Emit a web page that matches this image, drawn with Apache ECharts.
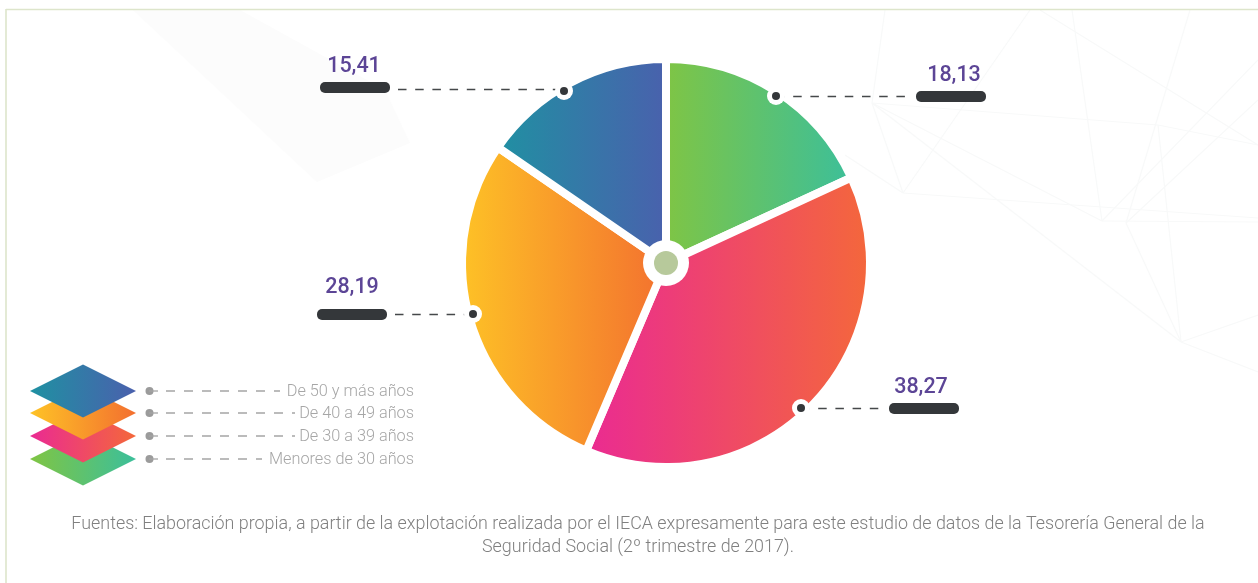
<!DOCTYPE html>
<html lang="es">
<head>
<meta charset="utf-8" />
<title>Grupos de edad</title>
<style>
  html, body { margin: 0; padding: 0; background: #fff; }
  #chart { width: 1258px; height: 583px; }
</style>
</head>
<body>
<div id="chart"></div>
<script src="https://cdn.jsdelivr.net/npm/echarts@6/dist/echarts.min.js"></script>
<script>
// datos, en sentido horario desde las 12
const categories = ['Menores de 30 años', 'De 30 a 39 años', 'De 40 a 49 años', 'De 50 y más años'];
const values = [18.13, 38.27, 28.19, 15.41];
const footnoteLines = [
  'Fuentes: Elaboración propia, a partir de la explotación realizada por el IECA expresamente para este estudio de datos de la Tesorería General de la',
  'Seguridad Social (2º trimestre de 2017).'
];

// colores de cada porción (izquierda, derecha)
const gradients = [
  ['#80c543', '#3bbf9b'],
  ['#ea2a93', '#f4683a'],
  ['#fec326', '#f36f2f'],
  ['#1f91a2', '#4a60ad']
];

// posiciones de las etiquetas: punto, barra y texto
const callouts = [
  { dot: [776, 96], barX: 916, barY: 91, lineY: 97, textX: 954, textY: 76 },
  { dot: [801, 408], barX: 889, barY: 403, lineY: 409, textX: 921, textY: 388 },
  { dot: [473, 314], barX: 317, barY: 309, lineY: 315, textX: 352, textY: 288 },
  { dot: [564, 91], barX: 320, barY: 82, lineY: 90, textX: 354, textY: 67 }
];
// leyenda: y de cada fila y final de la línea punteada
const legendY = [459, 436, 413, 391];
const legendDashEnd = [262, 295, 295, 280];

// fondo: red de líneas muy tenues
const bgLines = [
  [872, 103, 1158, 125], [872, 103, 1102, 221], [872, 103, 1181, 342], [872, 103, 903, 193],
  [885, 10, 872, 103], [845, 155, 903, 193], [903, 193, 1030, 10], [903, 193, 1258, 218],
  [1102, 221, 1258, 222], [1102, 221, 1258, 60], [1126, 223, 1258, 100], [1158, 125, 1181, 342],
  [1072, 10, 1102, 221], [1190, 10, 1126, 223], [1040, 10, 1258, 145], [1181, 342, 1258, 372],
  [1181, 342, 1258, 315], [1126, 223, 1181, 342], [1158, 125, 1258, 145]
];

function grad(pair) {
  return {
    type: 'linear', x: 0, y: 0, x2: 1, y2: 0,
    colorStops: [{ offset: 0, color: pair[0] }, { offset: 1, color: pair[1] }]
  };
}
function fmt(v) {
  return v.toFixed(2).replace('.', ',');
}

const elements = [];

// marco y fondo
elements.push({ type: 'polygon', z: 0, silent: true,
  shape: { points: [[133, 10], [317, 182], [410, 143], [385, 90], [240, 10]] },
  style: { fill: '#fcfcfc' } });
bgLines.forEach(function (l) {
  elements.push({ type: 'line', z: 0, silent: true,
    shape: { x1: l[0], y1: l[1], x2: l[2], y2: l[3] },
    style: { stroke: '#f8f9f9', lineWidth: 1.2 } });
});
elements.push({ type: 'line', z: 1, silent: true, shape: { x1: 6, y1: 9.5, x2: 1258, y2: 9.5 },
  style: { stroke: '#dde5cb', lineWidth: 1.4 } });
elements.push({ type: 'line', z: 1, silent: true, shape: { x1: 6, y1: 9, x2: 6, y2: 583 },
  style: { stroke: '#dde5cb', lineWidth: 1.6 } });

// círculo central
elements.push({ type: 'circle', z: 20, silent: true, shape: { cx: 666, cy: 263, r: 23 }, style: { fill: '#fff' } });
elements.push({ type: 'circle', z: 21, silent: true, shape: { cx: 666, cy: 263, r: 12 }, style: { fill: '#b7c99b' } });

// etiquetas de valor
values.forEach(function (v, i) {
  const c = callouts[i];
  const toRight = c.barX > c.dot[0];
  elements.push({ type: 'line', z: 20, silent: true,
    shape: {
      x1: toRight ? c.dot[0] : c.barX + 78, y1: c.lineY - 0.5,
      x2: toRight ? c.barX - 8 : c.dot[0], y2: c.lineY - 0.5
    },
    style: { stroke: '#45484a', lineWidth: 1.3, lineDash: [8.5, 8.7] } });
  elements.push({ type: 'circle', z: 21, silent: true, shape: { cx: c.dot[0], cy: c.dot[1], r: 9 }, style: { fill: '#fff' } });
  elements.push({ type: 'circle', z: 22, silent: true, shape: { cx: c.dot[0], cy: c.dot[1], r: 4 }, style: { fill: '#34373a' } });
  elements.push({ type: 'rect', z: 20, silent: true,
    shape: { x: c.barX, y: c.barY, width: 70, height: 11, r: 5 }, style: { fill: '#34373a' } });
  elements.push({ type: 'text', z: 20, silent: true,
    style: { x: c.textX, y: c.textY, text: fmt(v), fill: '#5c4596', align: 'center', verticalAlign: 'middle',
      font: '500 21.5px Roboto, sans-serif' } });
});

// leyenda (se apila de abajo arriba)
categories.forEach(function (name, i) {
  const y = legendY[i];
  elements.push({ type: 'polygon', z: 20 + i, silent: true,
    shape: { points: [[30, y], [83, y - 26.5], [136, y], [83, y + 26.5]] },
    style: { fill: grad(gradients[i]) } });
  elements.push({ type: 'circle', z: 30, silent: true, shape: { cx: 149.5, cy: y, r: 4 }, style: { fill: '#9b9b9b' } });
  elements.push({ type: 'line', z: 30, silent: true, shape: { x1: 149, y1: y, x2: 158, y2: y },
    style: { stroke: '#a5a5a5', lineWidth: 1.3 } });
  elements.push({ type: 'line', z: 30, silent: true,
    shape: { x1: 166, y1: y, x2: legendDashEnd[i], y2: y },
    style: { stroke: '#a5a5a5', lineWidth: 1.3, lineDash: [9, 9] } });
  elements.push({ type: 'text', z: 30, silent: true,
    style: { x: 414, y: y + 1, text: name, fill: '#a6a6a6', align: 'right', verticalAlign: 'middle',
      font: '300 16.3px Roboto, sans-serif' } });
});

// nota al pie
footnoteLines.forEach(function (line, i) {
  elements.push({ type: 'text', z: 30, silent: true,
    style: { x: 638, y: 525 + i * 23, text: line, fill: '#808080', align: 'center', verticalAlign: 'middle',
      font: '300 17.9px Roboto, sans-serif' } });
});

const chart = echarts.init(document.getElementById('chart'), null, { renderer: 'canvas' });
chart.setOption({
  animation: false,
  backgroundColor: '#fff',
  tooltip: { show: false },
  series: [{
    type: 'pie',
    z: 5,
    center: [666, 263],
    radius: [0, 204],
    startAngle: 90,
    clockwise: true,
    silent: true,
    label: { show: false },
    labelLine: { show: false },
    itemStyle: { borderColor: '#fff', borderWidth: 8 },
    data: categories.map(function (name, i) {
      return { name: name, value: values[i], itemStyle: { color: grad(gradients[i]) } };
    })
  }],
  graphic: { elements: elements }
});

window.onresize = function () {
  chart.resize();
};
</script>
</body>
</html>
